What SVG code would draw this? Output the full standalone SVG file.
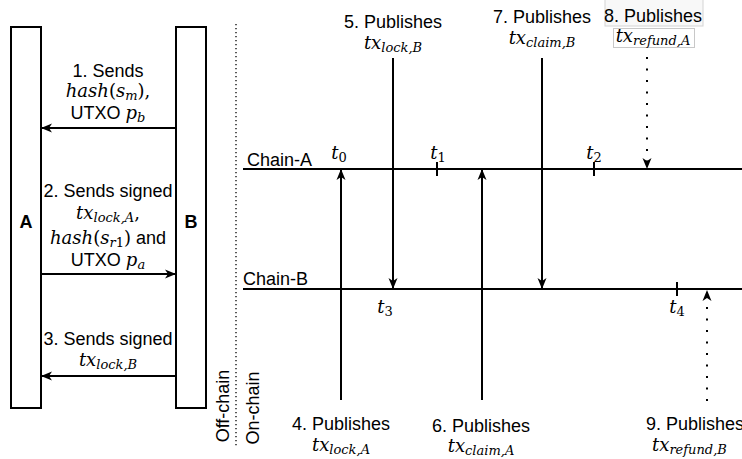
<svg xmlns="http://www.w3.org/2000/svg" width="742" height="459" viewBox="0 0 742 459">
<style>
.box{fill:#fff;stroke:#000;stroke-width:2}
.ln{stroke:#000;stroke-width:2;fill:none}
.dot{stroke:#000;stroke-width:2;fill:none;stroke-dasharray:2 9.5}
.sep{stroke:#000;stroke-width:1.3;fill:none;stroke-dasharray:1.3 2.7}
text{fill:#000}
.s{font-family:"Liberation Sans",Arial,sans-serif;font-size:18px}
.b{font-family:"Liberation Sans",Arial,sans-serif;font-size:18px;font-weight:bold}
.mi{font-family:"DejaVu Serif","Liberation Serif",serif;font-style:italic;font-size:18px}
.mu{font-family:"DejaVu Serif","Liberation Serif",serif;font-size:18px}
.sb{font-family:"DejaVu Serif","Liberation Serif",serif;font-style:italic;font-size:13px}
.su{font-family:"DejaVu Serif","Liberation Serif",serif;font-size:13px}
</style>
<defs>
<marker id="ah" markerUnits="userSpaceOnUse" markerWidth="12" markerHeight="10" refX="10" refY="5" orient="auto" viewBox="0 0 12 10">
<path d="M0,0.5 L11,5 L0,9.5 L3,5 Z" fill="#000"/>
</marker>
</defs>
<rect width="742" height="459" fill="#fff"/>

<g id="nodeA"><rect class="box" x="11" y="27" width="30" height="381"/><text class="b" x="26" y="228" text-anchor="middle">A</text></g>
<g id="nodeB"><rect class="box" x="176" y="27" width="30" height="381"/><text class="b" x="191" y="228" text-anchor="middle">B</text></g>

<g id="separator">
<line class="sep" x1="236" y1="24" x2="236" y2="447"/>
<text class="s" transform="translate(229,406) rotate(-90)" text-anchor="middle">Off-chain</text>
<text class="s" transform="translate(259,408) rotate(-90)" text-anchor="middle">On-chain</text>
</g>

<g id="chains">
<line class="ln" x1="243" y1="169" x2="742" y2="169"/>
<text class="s" x="247" y="166">Chain-A</text>
<line class="ln" x1="243" y1="289" x2="742" y2="289"/>
<text class="s" x="243" y="285">Chain-B</text>
<line class="ln" x1="437" y1="162" x2="437" y2="176"/>
<line class="ln" x1="594" y1="162" x2="594" y2="176"/>
<line class="ln" x1="677" y1="282" x2="677" y2="296"/>
<text x="339" y="159" text-anchor="middle"><tspan class="mi">t</tspan><tspan class="su" dy="3">0</tspan></text>
<text x="438" y="159" text-anchor="middle"><tspan class="mi">t</tspan><tspan class="su" dy="3">1</tspan></text>
<text x="594" y="159" text-anchor="middle"><tspan class="mi">t</tspan><tspan class="su" dy="3">2</tspan></text>
<text x="385" y="313" text-anchor="middle"><tspan class="mi">t</tspan><tspan class="su" dy="3">3</tspan></text>
<text x="677" y="313" text-anchor="middle"><tspan class="mi">t</tspan><tspan class="su" dy="3">4</tspan></text>
</g>

<g id="connectors">
<line class="ln" x1="176" y1="128" x2="42" y2="128" marker-end="url(#ah)"/>
<line class="ln" x1="41" y1="274" x2="175" y2="274" marker-end="url(#ah)"/>
<line class="ln" x1="176" y1="376" x2="42" y2="376" marker-end="url(#ah)"/>
<line class="ln" x1="393" y1="58" x2="393" y2="288" marker-end="url(#ah)"/>
<line class="ln" x1="542" y1="58" x2="542" y2="288" marker-end="url(#ah)"/>
<line class="ln" x1="341" y1="400" x2="341" y2="170" marker-end="url(#ah)"/>
<line class="ln" x1="482" y1="400" x2="482" y2="170" marker-end="url(#ah)"/>
<line class="dot" x1="647" y1="57" x2="647" y2="168" marker-end="url(#ah)"/>
<line class="dot" x1="707" y1="401" x2="707" y2="291" marker-end="url(#ah)"/>
</g>

<g id="label1">
<text class="s" x="108" y="77" text-anchor="middle">1. Sends</text>
<text x="108" y="97" text-anchor="middle"><tspan class="mi">hash</tspan><tspan class="mu">(</tspan><tspan class="mi">s</tspan><tspan class="sb" dy="3">m</tspan><tspan class="mu" dy="-3">),</tspan></text>
<text x="108" y="119" text-anchor="middle"><tspan class="s">UTXO </tspan><tspan class="mi">p</tspan><tspan class="sb" dy="3">b</tspan></text>
</g>
<g id="label2">
<text class="s" x="108" y="197" text-anchor="middle">2. Sends signed</text>
<text x="108" y="219" text-anchor="middle"><tspan class="mi">tx</tspan><tspan class="sb" dy="3">lock,A</tspan><tspan class="mu" dy="-3">,</tspan></text>
<text x="108" y="244" text-anchor="middle"><tspan class="mi">hash</tspan><tspan class="mu">(</tspan><tspan class="mi">s</tspan><tspan class="sb" dy="3">r</tspan><tspan class="su">1</tspan><tspan class="mu" dy="-3">)</tspan><tspan class="s"> and</tspan></text>
<text x="108" y="266" text-anchor="middle"><tspan class="s">UTXO </tspan><tspan class="mi">p</tspan><tspan class="sb" dy="3">a</tspan></text>
</g>
<g id="label3">
<text class="s" x="108" y="345" text-anchor="middle">3. Sends signed</text>
<text x="108" y="366" text-anchor="middle"><tspan class="mi">tx</tspan><tspan class="sb" dy="3">lock,B</tspan></text>
</g>

<g id="label5">
<text class="s" x="393" y="28" text-anchor="middle">5. Publishes</text>
<text x="393" y="49" text-anchor="middle"><tspan class="mi">tx</tspan><tspan class="sb" dy="3">lock,B</tspan></text>
</g>
<g id="label7">
<text class="s" x="542" y="23" text-anchor="middle">7. Publishes</text>
<text x="542" y="44" text-anchor="middle"><tspan class="mi">tx</tspan><tspan class="sb" dy="3">claim,B</tspan></text>
</g>
<g id="label8">
<rect x="605" y="-1" width="98" height="27" fill="#f8f8f8" stroke="#d4d4d4" stroke-width="1"/>
<rect x="613.5" y="28.5" width="81" height="19" fill="#fff" stroke="#c8c8c8" stroke-width="1"/>
<text class="s" x="653" y="22" text-anchor="middle">8. Publishes</text>
<text x="653" y="42" text-anchor="middle"><tspan class="mi">tx</tspan><tspan class="sb" dy="3">refund,A</tspan></text>
</g>
<g id="label4">
<text class="s" x="341" y="430" text-anchor="middle">4. Publishes</text>
<text x="341" y="451" text-anchor="middle"><tspan class="mi">tx</tspan><tspan class="sb" dy="3">lock,A</tspan></text>
</g>
<g id="label6">
<text class="s" x="481" y="432" text-anchor="middle">6. Publishes</text>
<text x="481" y="452" text-anchor="middle"><tspan class="mi">tx</tspan><tspan class="sb" dy="3">claim,A</tspan></text>
</g>
<g id="label9">
<text class="s" x="646" y="430">9. Publishes</text>
<text x="652" y="451"><tspan class="mi">tx</tspan><tspan class="sb" dy="3">refund,B</tspan></text>
</g>
</svg>
